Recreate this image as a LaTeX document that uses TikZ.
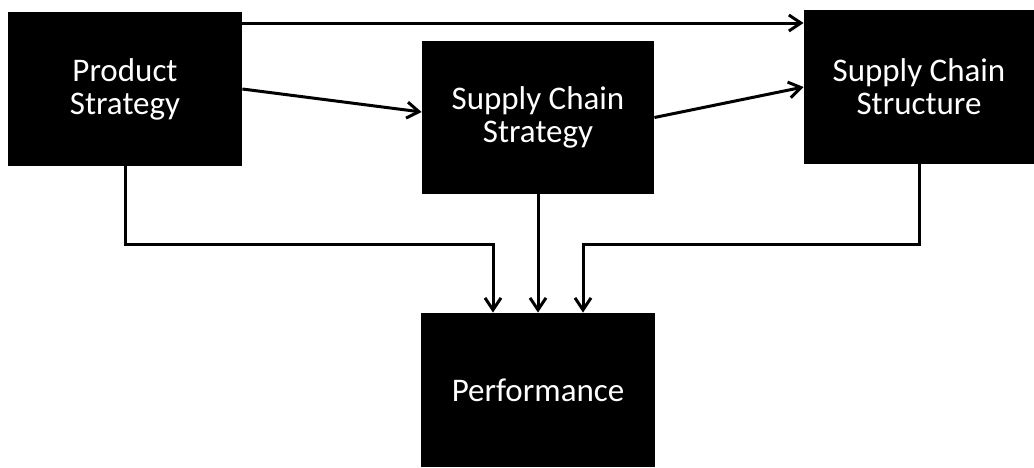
\documentclass[tikz,border=0pt]{standalone}
\usepackage{fontspec}
\setmainfont{Carlito}
\usetikzlibrary{arrows.meta}

\tikzset{
  blockbox/.style={rectangle, fill=black, text=white, align=center,
    inner sep=0pt, font=\fontsize{16.5pt}{16.5pt}\selectfont},
  flow/.style={-{Straight Barb[length=6pt,width=8pt]}, line width=1.5pt}
}

\begin{document}
\begin{tikzpicture}[x=0.5pt, y=-0.5pt]
            \useasboundingbox (0,0) rectangle (1034,467);
            % the four blocks
            \node[blockbox, minimum width=117pt, minimum height=77pt] (prod) at (125,89) {Product\\Strategy};
            \node[blockbox, minimum width=116pt, minimum height=76.5pt] (scstrat) at (538,117.5) {Supply Chain\\Strategy};
            \node[blockbox, minimum width=115pt, minimum height=77pt] (scstruct) at (919,87) {Supply Chain\\Structure};
            \node[blockbox, minimum width=117pt, minimum height=77pt] (perf) at (538,390) {Performance};
            % arrows along the top
            \draw[flow] (prod.east |- 0,23) -- (scstruct.west |- 0,23);
            \draw[flow] (prod.east) -- ([yshift=2.75pt]scstrat.west);
            \draw[flow] (scstrat.east) -- (scstruct.west);
            % arrows down into performance
            \draw[flow] (prod.south) -- (prod.south |- 0,244) -| ([xshift=-22.5pt]perf.north);
            \draw[flow] (scstrat.south) -- (perf.north);
            \draw[flow] (scstruct.south) -- (scstruct.south |- 0,244) -| ([xshift=22.5pt]perf.north);
\end{tikzpicture}
\end{document}
